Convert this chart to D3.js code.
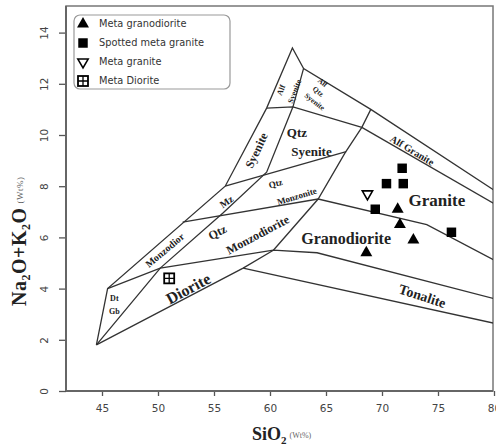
<!DOCTYPE html>
<head>
<meta charset="utf-8">
<style>
body { margin: 0; background: #fff; }
.bound { fill: none; stroke: #333; stroke-width: 1.3px; }
.field { font-family: "Liberation Serif", serif; font-weight: bold; fill: #222; }
.tick text { font-family: "DejaVu Sans", sans-serif; font-size: 10.5px; fill: #444; }
.legend text { font-family: "DejaVu Sans", sans-serif; font-size: 9.8px; fill: #333; }
</style>
<body>
<script src="https://cdn.jsdelivr.net/npm/d3@7"></script>
<script>

// ticks
var xTicks = [45, 50, 55, 60, 65, 70, 75, 80];
var yTicks = [0, 2, 4, 6, 8, 10, 12, 14];

// samples, [SiO2, Na2O+K2O]
var metaGranodiorite = [[68.6, 5.4], [71.4, 7.1], [71.6, 6.5], [72.8, 5.9]];
var spottedMetaGranite = [[71.8, 8.7], [70.4, 8.1], [71.9, 8.1], [69.4, 7.1], [76.2, 6.2]];
var metaGranite = [[68.7, 7.7]];
var metaDiorite = [[51.0, 4.4]];

var legendNames = ["Meta granodiorite", "Spotted meta granite", "Meta granite", "Meta Diorite"];

// field boundaries
var outerLine = [[44.5, 1.8], [45.5, 4.0], [56.0, 8.0], [59.7, 11.05], [62.0, 13.4], [63.0, 12.6], [69.0, 11.0], [80.5, 7.7]];
var lineP = [[44.5, 1.8], [50.2, 4.8], [55.8, 6.95], [59.7, 8.55], [62.05, 11.1], [63.0, 12.6]];
var lineQ = [[45.5, 4.0], [50.2, 4.8], [60.3, 5.5], [64.2, 5.4], [80.5, 3.55]];
var dioriteBase = [[44.5, 1.8], [57.6, 4.8], [60.3, 5.5]];
var tonaliteBase = [[57.6, 4.8], [80.5, 2.6]];
var lineV = [[60.3, 5.5], [64.3, 7.5], [66.7, 9.3], [68.2, 10.3], [69.0, 11.0]];
var lineR = [[52.2, 6.6], [64.3, 7.5], [74.0, 6.5], [80.5, 5.0]];
var lineS = [[56.0, 8.0], [66.8, 9.35]];
var syeniteTop = [[59.7, 11.05], [62.05, 11.1], [68.2, 10.3]];
var alfGraniteBase = [[68.2, 10.3], [80.5, 7.2]];
var boundaries = [outerLine, lineP, lineQ, dioriteBase, tonaliteBase, lineV, lineR, lineS, syeniteTop, alfGraniteBase];

// field names and where they sit, [text, SiO2, Na2O+K2O]
var fieldNames = [
  ["Dt", 46.1, 3.6], ["Gb", 46.1, 3.1],
  ["Monzodior", 50.6, 5.5],
  ["Diorite", 52.7, 4.0],
  ["Qtz", 55.3, 6.2], ["Monzodiorite", 58.9, 6.1],
  ["Mz", 56.1, 7.4],
  ["Qtz", 60.5, 8.1], ["Monzonite", 62.4, 7.6],
  ["Syenite", 58.8, 9.4],
  ["Qtz", 62.4, 10.1], ["Syenite", 63.7, 9.35],
  ["Alf", 61.0, 11.75], ["Syenite", 62.2, 11.7],
  ["Alf", 64.7, 12.05], ["Qtz", 64.3, 11.7], ["Syenite", 64.0, 11.3],
  ["Alf Granite", 72.7, 9.4],
  ["Granite", 74.9, 7.45],
  ["Granodiorite", 66.8, 5.95],
  ["Tonalite", 73.6, 3.7]
];
// rotation and size for each name above, same order
var fieldStyle = [
  [0, 8], [0, 8],
  [-40, 10],
  [-28, 16],
  [-28, 12], [-28, 12],
  [-35, 10],
  [-17, 9], [-17, 9],
  [-65, 12],
  [0, 13], [0, 13],
  [-69, 8], [-69, 8],
  [38, 7.5], [38, 7.5], [38, 7.5],
  [31, 10],
  [0, 17],
  [0, 16],
  [18, 14]
];

var W = 496, H = 446;
var frame = {left: 66, top: 6, right: 493, bottom: 391};

var x = d3.scaleLinear().domain([45, 80]).range([102, 494]);
var y = d3.scaleLinear().domain([0, 14]).range([391, 32.6]);

var svg = d3.select("body").append("svg")
    .attr("width", W)
    .attr("height", H);

svg.append("clipPath").attr("id", "clip")
  .append("rect")
    .attr("x", frame.left).attr("y", frame.top)
    .attr("width", frame.right - frame.left)
    .attr("height", frame.bottom - frame.top);

// frame
svg.append("rect")
    .attr("x", frame.left).attr("y", frame.top)
    .attr("width", frame.right - frame.left)
    .attr("height", frame.bottom - frame.top)
    .attr("fill", "none")
    .attr("stroke", "#777")
    .attr("stroke-width", 1.5);

var line = d3.line()
    .x(function(d) { return x(d[0]); })
    .y(function(d) { return y(d[1]); });

var g = svg.append("g").attr("clip-path", "url(#clip)");

g.selectAll(".bound")
    .data(boundaries)
  .enter().append("path")
    .attr("class", "bound")
    .attr("d", line);

// field names
g.selectAll(".field")
    .data(fieldNames)
  .enter().append("text")
    .attr("class", "field")
    .attr("text-anchor", "middle")
    .attr("dominant-baseline", "central")
    .attr("font-size", function(d, i) { return fieldStyle[i][1] + "px"; })
    .attr("transform", function(d, i) {
      return "translate(" + x(d[1]) + "," + y(d[2]) + ") rotate(" + fieldStyle[i][0] + ")";
    })
    .text(function(d) { return d[0]; });

// axes
var xAxis = svg.append("g")
    .attr("transform", "translate(0," + frame.bottom + ")")
    .call(d3.axisBottom(x).tickValues(xTicks).tickSize(5).tickPadding(9));
xAxis.select(".domain").remove();
xAxis.selectAll("line").attr("stroke", "#555").attr("stroke-width", 1.3);

var yAxis = svg.append("g")
    .attr("transform", "translate(" + frame.left + ",0)")
    .call(d3.axisLeft(y).tickValues(yTicks).tickSize(7).tickPadding(0));
yAxis.select(".domain").remove();
yAxis.selectAll("line").attr("stroke", "#555").attr("stroke-width", 1.3);
yAxis.selectAll("text")
    .attr("x", 0).attr("dy", null)
    .attr("text-anchor", "middle")
    .attr("dominant-baseline", "central")
    .attr("transform", "translate(-22,0) rotate(-90)");

// axis lines, a bit heavier
svg.append("line")
    .attr("x1", frame.left).attr("x2", frame.right)
    .attr("y1", frame.bottom).attr("y2", frame.bottom)
    .attr("stroke", "#666").attr("stroke-width", 2);
svg.append("line")
    .attr("x1", frame.left).attr("x2", frame.left)
    .attr("y1", frame.top).attr("y2", frame.bottom)
    .attr("stroke", "#666").attr("stroke-width", 2);

// axis titles
var xt = svg.append("text")
    .attr("x", 252).attr("y", 440)
    .attr("font-family", "Liberation Serif, serif")
    .attr("font-weight", "bold")
    .attr("font-size", "18px")
    .attr("fill", "#222");
xt.append("tspan").text("SiO");
xt.append("tspan").attr("font-size", "11px").attr("dy", 4).text("2");
xt.append("tspan").attr("font-size", "8px").attr("font-weight", "normal")
    .attr("fill", "#666").attr("dx", 3).attr("dy", -6).text("(Wt%)");

var yt = svg.append("text")
    .attr("transform", "translate(26,306) rotate(-90)")
    .attr("font-family", "Liberation Serif, serif")
    .attr("font-weight", "bold")
    .attr("font-size", "20px")
    .attr("letter-spacing", "0.5px")
    .attr("fill", "#222");
yt.append("tspan").text("Na");
yt.append("tspan").attr("font-size", "12px").attr("dy", 4).text("2");
yt.append("tspan").attr("dy", -4).text("O+K");
yt.append("tspan").attr("font-size", "12px").attr("dy", 4).text("2");
yt.append("tspan").attr("dy", -4).text("O");
yt.append("tspan").attr("font-size", "9px").attr("font-weight", "normal")
    .attr("fill", "#666").attr("dx", 4).attr("dy", -3).text("(Wt%)");

// marker helpers
var tri = d3.symbol().type(d3.symbolTriangle).size(62);
var sq = d3.symbol().type(d3.symbolSquare).size(90);
var itri = d3.symbol().type(d3.symbolTriangle).size(46);

function drawTri(sel) {
  sel.append("path").attr("d", tri).attr("fill", "#000");
}
function drawSq(sel) {
  sel.append("path").attr("d", sq).attr("fill", "#000");
}
function drawITri(sel) {
  sel.append("path").attr("d", itri).attr("transform", "rotate(180)")
    .attr("fill", "#fff").attr("stroke", "#000").attr("stroke-width", 1.6);
}
function drawDiorite(sel) {
  sel.append("rect").attr("x", -5).attr("y", -5).attr("width", 10).attr("height", 10)
    .attr("fill", "#fff").attr("stroke", "#000").attr("stroke-width", 1.8);
  sel.append("path").attr("d", "M-5,0H5M0,-5V5").attr("stroke", "#000").attr("stroke-width", 1.3);
}

function plotPoints(data, draw) {
  svg.append("g").selectAll("g")
      .data(data)
    .enter().append("g")
      .attr("transform", function(d) { return "translate(" + x(d[0]) + "," + y(d[1]) + ")"; })
      .each(function() { draw(d3.select(this)); });
}
plotPoints(metaGranodiorite, drawTri);
plotPoints(spottedMetaGranite, drawSq);
plotPoints(metaGranite, drawITri);
plotPoints(metaDiorite, drawDiorite);

// legend
var legend = svg.append("g").attr("class", "legend");
legend.append("rect")
    .attr("x", 74).attr("y", 15).attr("width", 156).attr("height", 74)
    .attr("rx", 6)
    .attr("fill", "#fff").attr("stroke", "#999").attr("stroke-width", 1.2);
var drawers = [drawTri, drawSq, drawITri, drawDiorite];
legendNames.forEach(function(name, i) {
  var row = legend.append("g").attr("transform", "translate(83," + (24 + i * 19) + ")");
  drawers[i](row.append("g"));
  row.append("text").attr("x", 16).attr("dy", "0.35em").text(name);
});

</script>
</body>
